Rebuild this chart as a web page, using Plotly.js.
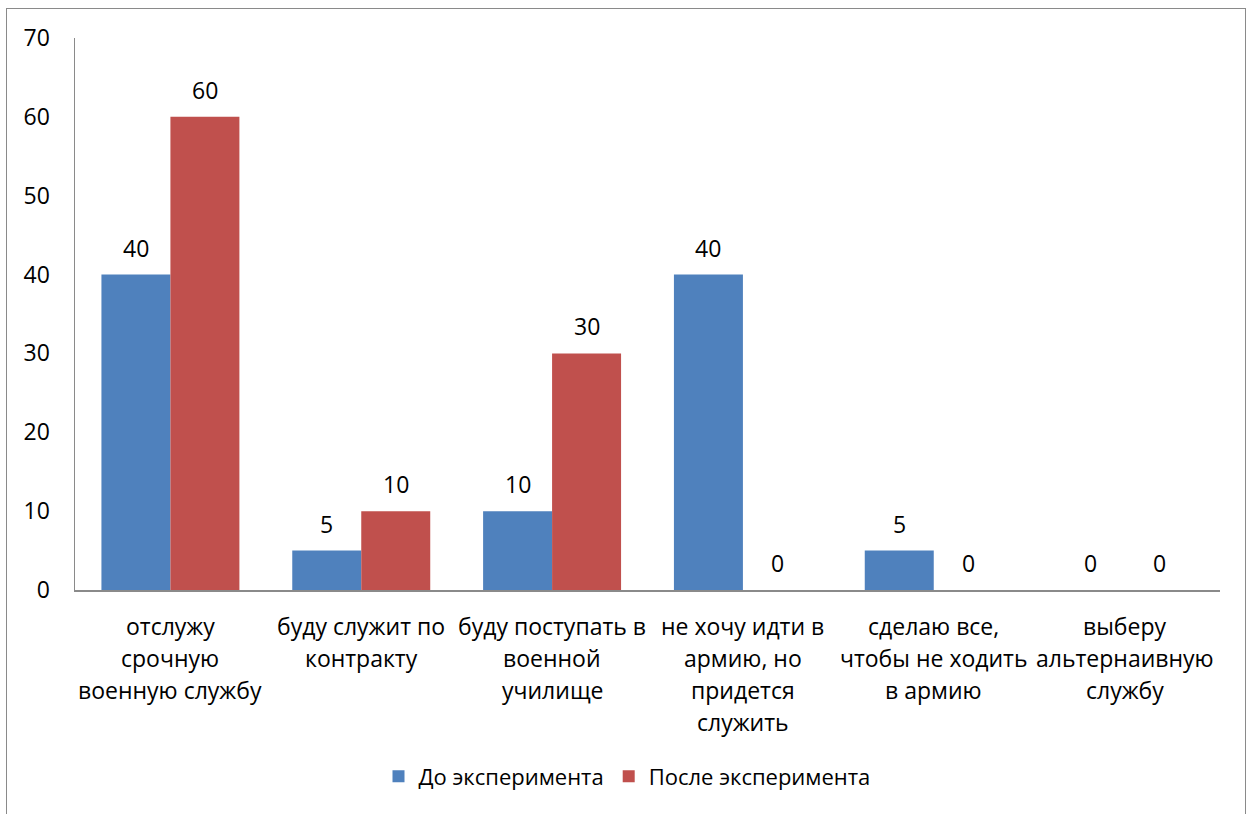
<!DOCTYPE html>
<html><head><meta charset="utf-8">
<script src="https://cdn.plot.ly/plotly-3.0.1.min.js"></script>
<style>
html,body{margin:0;padding:0;background:#fff;overflow:hidden;}
#frame{position:absolute;left:6px;top:8px;width:1238px;height:830px;border:1px solid #8a8a8a;}
#chart{position:absolute;left:0;top:0;width:1254px;height:814px;}
</style></head>
<body>
<div id="frame"></div>
<div id="chart"></div>
<script>
const categories = ["c1","c2","c3","c4","c5","c6"];
const categoryLines = [
  ["отслужу","срочную","военную службу"],
  ["буду служит по","контракту"],
  ["буду поступать в","военной","училище"],
  ["не хочу идти в","армию, но","придется","служить"],
  ["сделаю все,","чтобы не ходить","в армию"],
  ["выберу","альтернаивную","службу"]
];
const seriesNames = ["До эксперимента","После эксперимента"];
const before = [40,5,10,40,5,0];
const after = [60,10,30,0,0,0];
const colors = ["#4F81BD","#C0504D"];
const FONT = "'Open Sans', sans-serif";
const FS = 23;

const W = 1254, H = 814, ML = 75, MR = 34, MT = 38, MB = 224, BARGAP = 0.277;
const catWidth = (W - ML - MR) / categories.length;
const barWidth = catWidth * (1 - BARGAP) / 2;

const traces = [];
[before, after].forEach((vals,i)=>{
  traces.push({type:'bar', x:categories, y:vals, name:seriesNames[i],
    marker:{color:colors[i]}, hoverinfo:'skip'});
});

const annotations = [];
[before, after].forEach((vals,i)=>{
  vals.forEach((v,ci)=>{
    annotations.push({x:categories[ci], xref:'x', y:v, yref:'y', yanchor:'middle',
      xshift:(i===0?-1:1)*barWidth/2, yshift:27, text:String(v), showarrow:false,
      font:{family:FONT, size:FS, color:'#000'}});
  });
});
categoryLines.forEach((lines,ci)=>{
  lines.forEach((ln,li)=>{
    annotations.push({x:categories[ci], xref:'x', y:0, yref:'y', yanchor:'middle',
      yshift:-(36+32*li), text:ln, showarrow:false,
      font:{family:FONT, size:FS, color:'#000'}});
  });
});

const layout = {
  width:W, height:H,
  margin:{l:ML, r:MR, t:MT, b:MB},
  paper_bgcolor:'rgba(0,0,0,0)', plot_bgcolor:'rgba(0,0,0,0)',
  barmode:'group', bargap:BARGAP, bargroupgap:0,
  font:{family:FONT, size:FS, color:'#000'},
  xaxis:{type:'category', showticklabels:false, showline:true, linecolor:'#8a8a8a', linewidth:1.5,
    ticks:'', showgrid:false, zeroline:false, fixedrange:true},
  yaxis:{range:[0,70], dtick:10, tick0:0, showline:true, linecolor:'#8a8a8a', linewidth:1.5,
    ticks:'', showgrid:false, zeroline:false, ticklabelstandoff:19,
    tickfont:{family:FONT, size:FS, color:'#000'}},
  legend:{orientation:'h', xref:'container', x:0.5, xanchor:'center', yref:'container', y:0.046, yanchor:'middle',
    font:{family:FONT, size:22, color:'#000'}, itemwidth:30, traceorder:'normal'},
  annotations:annotations,
  showlegend:true
};
Plotly.newPlot('chart', traces, layout, {staticPlot:true});
</script>
</body></html>
